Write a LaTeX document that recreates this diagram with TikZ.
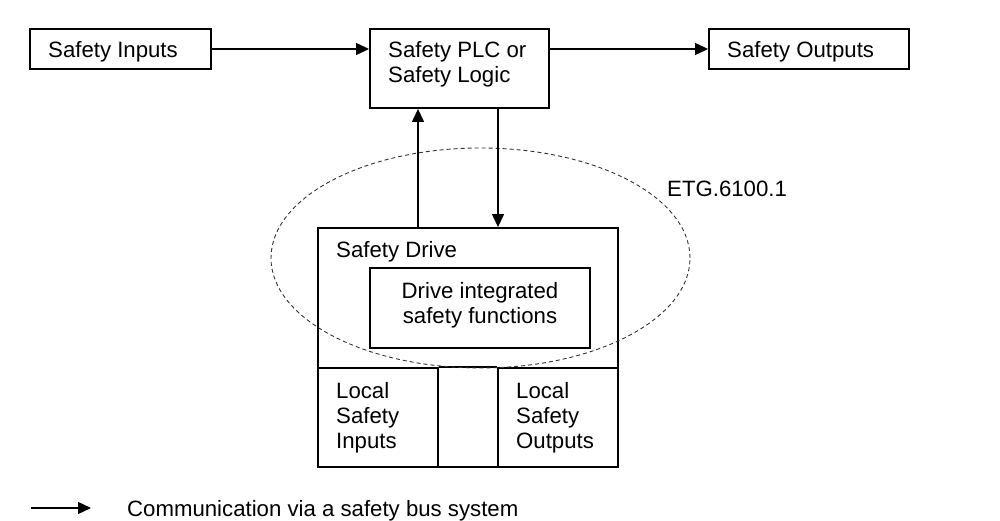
\documentclass[tikz,border=0pt]{standalone}
\usepackage{fontspec}
\setmainfont{Liberation Sans}
\usetikzlibrary{arrows.meta}
\begin{document}
\begin{tikzpicture}[x=1pt,y=-1pt,
  box/.style={draw, line width=1.9pt, inner sep=0pt, minimum width=#1},
  arr/.style={line width=1.3pt, -{Triangle[length=13pt,width=12pt]}},
  lbl/.style={anchor=base west, inner sep=0pt, font=\fontsize{22.2}{25}\selectfont},
  clbl/.style={anchor=base, inner sep=0pt, font=\fontsize{22.2}{25}\selectfont},
  zone/.style={draw=black!80, line width=0.9pt, dash pattern=on 4pt off 3pt}]
\useasboundingbox (0,0) rectangle (1000,521);
% top row
\node[box=181pt, minimum height=40pt] (in) at (120.5,49) {};
\node[box=179pt, minimum height=79pt] (plc) at (459.5,68.5) {};
\node[box=200pt, minimum height=40pt] (out) at (809,49) {};
\node[lbl] (tin) at (48,58) {Safety Inputs};
\node[lbl] (tplc1) at (388,58) {Safety PLC or};
\node[lbl] (tplc2) at (388,83) {Safety Logic};
\node[lbl] (tout) at (727,58) {Safety Outputs};
% drive
\node[box=300pt, minimum height=239pt] (drive) at (468,347.5) {};
\node[box=220pt, minimum height=80pt] (dis) at (480,308) {};
\node[box=120pt, minimum height=99pt] (lin) at (378,417.5) {};
\node[box=120pt, minimum height=99pt] (lout) at (558,417.5) {};
\draw[line width=1.9pt] (lin.north east) -- (lout.north west);
\node[lbl] (tdrive) at (336,258) {Safety Drive};
\node[clbl] (tdis1) at (480,298) {Drive integrated};
\node[clbl] (tdis2) at (480,323) {safety functions};
\node[lbl] (tlin1) at (336,398) {Local};
\node[lbl] (tlin2) at (336,423) {Safety};
\node[lbl] (tlin3) at (336,448) {Inputs};
\node[lbl] (tlout1) at (516,398) {Local};
\node[lbl] (tlout2) at (516,423) {Safety};
\node[lbl] (tlout3) at (516,448) {Outputs};
% zone
\draw[zone] (480.5,258) ellipse [x radius=209.5pt, y radius=110pt];
\node[lbl] (tetg) at (667,197) {ETG.6100.1};
% connectors
\coordinate (ux) at (418,0);
\coordinate (dx) at (498,0);
\draw[arr] (in.east) -- (plc.west |- in.east);
\draw[arr] (plc.east |- out.west) -- (out.west);
\draw[arr] (drive.north -| ux) -- (plc.south -| ux);
\draw[arr] (plc.south -| dx) -- (drive.north -| dx);
% legend
\coordinate (lga) at (31,508);
\coordinate (lgb) at (91,508);
\draw[arr] (lga) -- (lgb);
\node[lbl] (tleg) at (127,516) {Communication via a safety bus system};
\end{tikzpicture}
\end{document}
